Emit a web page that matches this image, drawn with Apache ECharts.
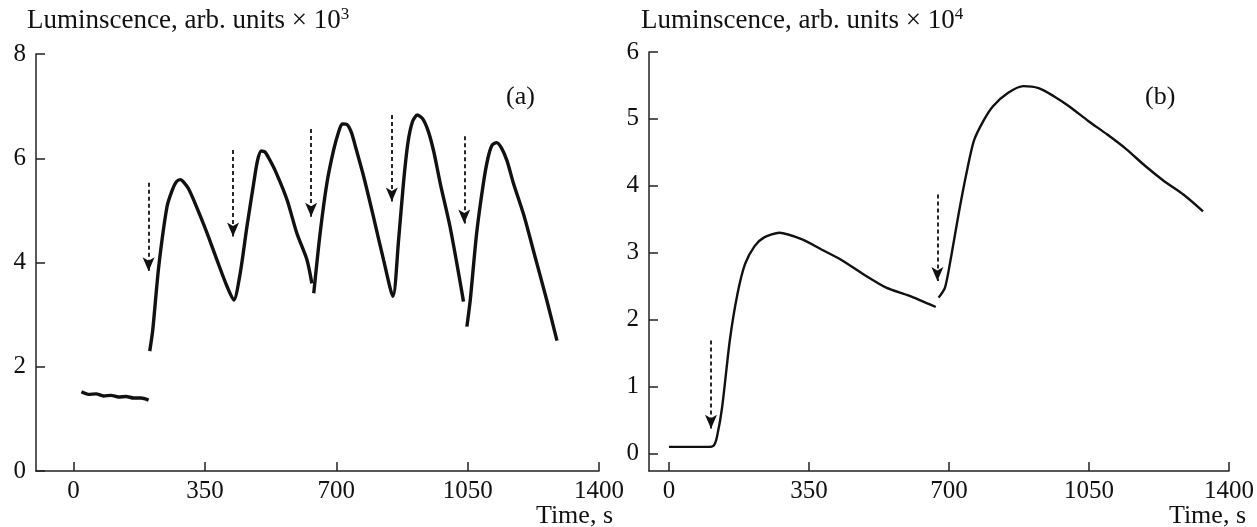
<!DOCTYPE html>
<html>
<head>
<meta charset="utf-8">
<script src="https://cdn.jsdelivr.net/npm/echarts@6/dist/echarts.min.js"></script>
<style>
html,body{margin:0;padding:0;background:#fff;}
#c{width:1257px;height:527px;}
</style>
</head>
<body>
<div id="c"></div>
<script>
// ---- data (time in s; luminescence in arb. units: panel a ×10^3, panel b ×10^4) ----
const xTickValues = [0, 350, 700, 1050, 1400];
const yTicksA = [0, 2, 4, 6, 8];
const yTicksB = [0, 1, 2, 3, 4, 5, 6];

const segA1 = [[21,1.52],[40,1.47],[60,1.48],[80,1.44],[100,1.45],[120,1.42],[140,1.43],[160,1.40],[180,1.40],[200,1.36]];
const segA2 = [[203,2.3],[211,2.7],[227,3.92],[249,5.07],[263,5.39],[274,5.55],[285,5.59],[296,5.52],[306,5.42],[320,5.2],[356,4.56],[382,4.05],[409,3.54],[427,3.28],[444,3.79],[462,4.69],[480,5.52],[490,5.95],[500,6.14],[510,6.12],[522,5.98],[540,5.72],[569,5.2],[595,4.56],[622,4.05],[635,3.6]];
const segA3 = [[640,3.41],[657,4.56],[675,5.52],[693,6.16],[706,6.5],[716,6.66],[728,6.65],[740,6.5],[752,6.2],[773,5.65],[799,4.88],[826,4.05],[851,3.35],[866,4.43],[879,5.52],[891,6.3],[903,6.7],[916,6.83],[930,6.76],[945,6.52],[960,6.12],[977,5.52],[1003,4.69],[1026,3.79],[1039,3.25]];
const segA4 = [[1048,2.77],[1057,3.28],[1074,4.56],[1092,5.52],[1104,6.0],[1115,6.25],[1127,6.3],[1140,6.2],[1155,5.95],[1172,5.52],[1200,4.9],[1230,4.1],[1260,3.3],[1288,2.5]];
// arrows: [time, top value, tip value]
const arrowsA = [[200,5.53,3.83],[425,6.16,4.5],[633,6.56,4.88],[848,6.83,5.17],[1041,6.42,4.75]];

const segB1 = [[0,0.1],[50,0.1],[100,0.1],[112,0.12],[120,0.25],[133,0.7],[152,1.69],[171,2.38],[190,2.83],[214,3.1],[238,3.23],[276,3.3],[333,3.2],[381,3.05],[429,2.9],[486,2.68],[543,2.48],[600,2.36],[667,2.19]];
const segB2 = [[674,2.33],[690,2.48],[705,2.93],[724,3.58],[743,4.17],[762,4.67],[786,4.97],[810,5.19],[848,5.39],[886,5.49],[924,5.46],[962,5.34],[1000,5.19],[1048,4.97],[1095,4.77],[1143,4.55],[1190,4.3],[1238,4.07],[1286,3.87],[1335,3.62]];
const arrowsB = [[105,1.69,0.37],[671,3.87,2.58]];

const FONT = 'Liberation Serif';
const INK = '#111';

function arrowLines(arr){
  return arr.map(a => [{coord:[a[0], a[1]]}, {coord:[a[0], a[2]]}]);
}
function xAxisCfg(idx, min){
  return {
    type:'value', gridIndex:idx, min:min, max:1400,
    axisLine:{show:true, onZero:false, lineStyle:{color:'#222', width:1.5}},
    axisTick:{show:true, inside:true, length:9, customValues:xTickValues, lineStyle:{color:'#222', width:1.5}},
    axisLabel:{customValues:xTickValues, color:INK, fontFamily:FONT, fontSize:25, margin:8, formatter:v => String(v)},
    splitLine:{show:false}
  };
}
function yAxisCfg(idx, min, max, ticks){
  return {
    type:'value', gridIndex:idx, min:min, max:max,
    axisLine:{show:true, onZero:false, lineStyle:{color:'#222', width:1.5}},
    axisTick:{show:true, inside:true, length:9, customValues:ticks, lineStyle:{color:'#222', width:1.5}},
    axisLabel:{customValues:ticks, color:INK, fontFamily:FONT, fontSize:25, margin:10, formatter:v => String(v)},
    splitLine:{show:false}
  };
}
function seg(data, xi, w, ml){
  const s = {type:'line', xAxisIndex:xi, yAxisIndex:xi, data:data, showSymbol:false, symbol:'none',
    smooth:0.25, lineStyle:{color:INK, width:w}, silent:true, animation:false};
  if (ml) {
    s.markLine = {silent:true, animation:false, symbol:['none','arrow'], symbolSize:[9,14],
      lineStyle:{color:INK, width:1.8, type:[4,3]}, label:{show:false}, emphasis:{disabled:true},
      data: arrowLines(ml)};
  }
  return s;
}

const chart = echarts.init(document.getElementById('c'), null, {renderer:'canvas'});
chart.setOption({
  backgroundColor:'#fff',
  animation:false,
  grid:[
    {left:36, top:54, width:563, height:417},
    {left:649, top:52, width:582, height:419}
  ],
  xAxis:[xAxisCfg(0,-100), xAxisCfg(1,-50)],
  yAxis:[yAxisCfg(0,0,8,yTicksA), yAxisCfg(1,-0.26,6,yTicksB)],
  series:[
    seg(segA1,0,3.4,arrowsA), seg(segA2,0,3.4), seg(segA3,0,3.4), seg(segA4,0,3.4),
    seg(segB1,1,2.4,arrowsB), seg(segB2,1,2.4)
  ],
  graphic:[
    {type:'text', left:27, top:6, style:{text:'{m|Luminscence, arb. units × 10}{s|3}', rich:{
      m:{fontFamily:FONT, fontSize:27, fill:INK, lineHeight:30},
      s:{fontFamily:FONT, fontSize:17, fill:INK, verticalAlign:'top', lineHeight:18}}}},
    {type:'text', left:641, top:6, style:{text:'{m|Luminscence, arb. units × 10}{s|4}', rich:{
      m:{fontFamily:FONT, fontSize:27, fill:INK, lineHeight:30},
      s:{fontFamily:FONT, fontSize:17, fill:INK, verticalAlign:'top', lineHeight:18}}}},
    {type:'text', left:506, top:84, style:{text:'(a)', fontFamily:FONT, fontSize:26, fill:INK}},
    {type:'text', left:1145, top:84, style:{text:'(b)', fontFamily:FONT, fontSize:26, fill:INK}},
    {type:'text', right:644, top:503, style:{text:'Time, s', fontFamily:FONT, fontSize:26, fill:INK}},
    {type:'text', right:11, top:503, style:{text:'Time, s', fontFamily:FONT, fontSize:26, fill:INK}}
  ]
});
</script>
</body>
</html>
